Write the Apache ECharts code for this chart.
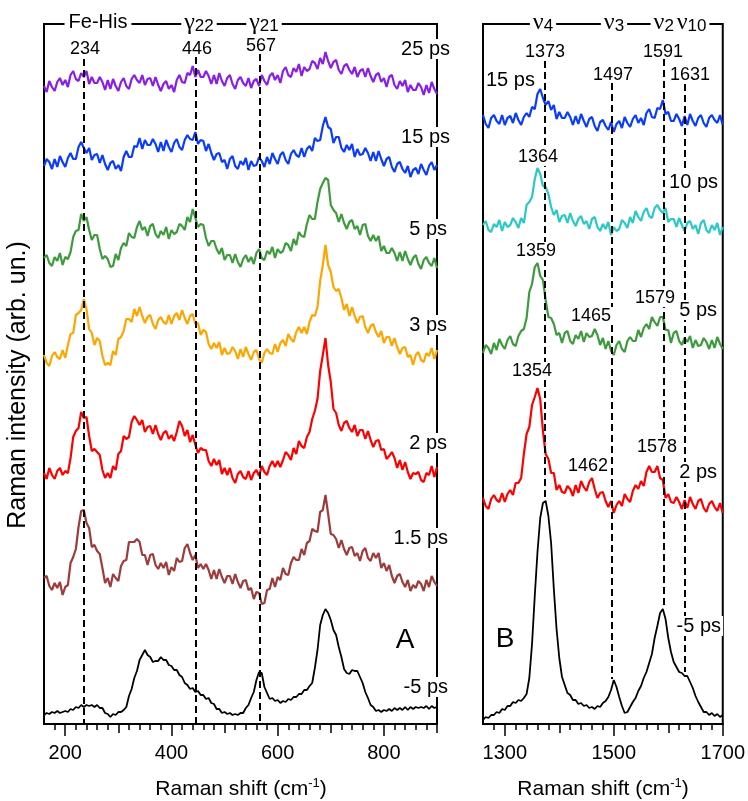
<!DOCTYPE html>
<html><head><meta charset="utf-8">
<script src="https://cdn.jsdelivr.net/npm/echarts@6/dist/echarts.min.js"></script>
<style>html,body{margin:0;padding:0;background:#fff}#c{width:748px;height:801px}</style>
</head><body><div id="c"></div>
<script>
// Panel A: Raman shift 160..900 cm-1, sampled every 5 cm-1 (values = stacked intensity, arb. un.)
const A_START = 160, A_STEP = 5;
const a25ps = [
638,632,643,637,633,642,646,639,644,637,
649,653,645,643,651,647,653,640,647,641,
641,647,642,634,644,635,645,638,633,642,
646,638,635,645,649,644,641,649,639,645,
646,638,647,639,633,640,643,635,639,632,
644,649,642,641,651,649,658,647,654,647,
647,653,648,640,649,640,651,643,638,646,
649,640,635,644,647,641,638,646,636,643,
645,638,649,643,639,648,651,644,649,641,
653,657,649,647,656,652,660,648,657,653,
655,663,661,655,666,660,672,663,656,662,
664,654,650,658,660,654,650,657,647,653,
655,647,656,648,642,649,651,642,646,637,
647,649,639,635,643,638,644,632,639,634,
634,641,637,629,639,631,642,635,630];
const a15ps = [
558,565,562,555,565,557,568,562,557,566,
571,565,565,577,582,576,571,576,564,569,
570,561,569,560,554,561,563,555,559,553,
567,573,567,567,578,577,586,575,584,579,
579,585,580,572,582,573,584,577,572,581,
585,577,574,584,589,585,584,592,580,584,
583,573,580,571,564,570,571,562,564,555,
565,568,558,555,563,559,566,554,563,558,
559,567,563,557,567,560,571,565,560,569,
572,564,560,570,574,569,567,576,567,575,
578,573,586,583,584,598,607,597,595,581,
587,587,576,572,579,574,580,567,575,569,
570,576,571,563,572,563,573,565,558,565,
567,557,552,560,562,555,551,558,547,554,
556,550,560,554,549,558,562,554,559];
const a5ps = [
466,469,461,458,467,463,471,459,467,465,
472,487,493,494,510,503,507,494,484,489,
489,475,465,468,465,457,458,470,464,476,
481,478,491,487,486,497,503,494,497,488,
498,500,490,486,493,489,497,485,494,490,
492,500,498,494,507,502,515,506,497,500,
499,486,478,483,483,475,470,476,464,469,
469,461,470,462,457,465,469,462,467,460,
471,475,466,464,473,470,477,466,475,471,
473,481,479,473,485,479,492,488,487,500,
509,505,505,522,535,541,546,544,519,514,
511,502,510,501,495,502,504,495,498,489,
499,500,488,483,489,483,488,473,478,471,
471,476,471,463,472,463,473,465,459,466,
469,460,455,464,467,461,458,466,456];
const a3ps = [
369,361,358,368,372,367,365,374,366,379,
390,391,409,411,414,425,415,395,391,379,
386,383,368,359,361,359,373,369,385,387,
393,405,405,402,415,408,417,408,401,407,
409,400,395,404,407,402,400,409,400,408,
411,404,414,406,400,408,410,400,401,389,
394,392,380,375,381,376,382,369,376,370,
371,377,373,365,375,367,377,370,364,372,
374,365,361,371,375,371,370,380,372,381,
384,378,390,385,382,392,397,391,397,390,
402,409,408,417,443,459,479,459,452,437,
433,435,426,414,420,408,417,408,401,407,
408,397,391,398,400,392,387,393,381,387,
387,378,386,377,370,376,377,367,369,359,
369,372,364,362,371,368,376,365,374];
const a2ps = [
251,245,256,249,245,253,256,249,253,251,
266,287,293,296,312,306,307,288,273,275,
272,269,254,246,251,246,258,254,270,273,
288,285,287,302,308,304,299,304,292,297,
298,290,299,290,284,291,293,285,289,283,
292,303,298,288,294,282,289,279,271,276,
274,274,263,258,265,259,264,250,256,249,
256,246,241,250,253,247,245,253,244,251,
254,248,258,252,249,258,263,257,263,257,
264,272,269,264,276,270,283,278,276,287,
292,305,313,325,353,369,386,359,342,315,
311,299,293,301,303,296,292,299,288,294,
294,285,293,284,277,283,284,274,275,265,
268,272,266,256,264,254,262,252,245,251,
250,252,244,242,251,249,258,247,257];
const a1p5ps = [
146,148,138,134,141,136,142,129,137,139,
161,167,175,197,213,214,201,196,177,179,
173,170,156,141,146,137,150,146,143,158,
163,164,182,182,182,185,182,169,169,159,
169,170,159,155,161,156,162,149,157,153,
166,162,163,176,180,171,164,169,156,160,
155,160,154,145,154,145,155,147,141,148,
148,140,150,142,136,143,144,134,136,125,
132,131,120,121,134,135,146,137,147,144,
156,150,149,161,167,164,164,175,169,181,
183,195,193,192,212,214,229,210,190,189,
185,176,184,175,169,176,177,168,171,163,
173,176,166,163,171,166,171,156,161,153,
159,148,141,148,150,142,137,144,133,139,
136,143,140,133,144,137,148,142,138];
const aMinus5ps = [
9,11,10,12,11,13,11,12,13,12,
15,14,17,16,19,17,19,18,19,17,
19,16,16,11,10,7,10,9,12,12,
14,17,28,35,46,53,64,69,74,69,
67,62,63,63,67,64,64,59,58,54,
54,49,47,41,39,35,36,32,33,29,
29,25,26,21,20,15,15,11,12,10,
11,9,10,9,11,11,16,19,26,32,
44,52,51,37,31,25,26,23,24,21,
23,22,25,24,27,27,30,30,34,34,
38,41,56,74,99,109,115,111,104,94,
89,77,67,55,51,50,54,53,53,47,
41,32,26,19,17,13,14,12,14,13,
15,13,16,14,16,14,17,14,17,15,
17,16,17,16,18,15,18,16,17];

// Panel B: Raman shift 1260..1700 cm-1, sampled every 5 cm-1
const B_START = 1260, B_STEP = 5;
const b15ps = [
609,600,596,606,609,603,600,609,599,606,
608,601,611,604,599,607,611,607,617,615,
630,635,626,619,623,614,619,605,612,606,
606,612,607,599,608,600,610,603,597,605,
607,598,593,602,604,598,594,602,592,600,
603,596,607,601,597,605,609,601,606,599,
611,615,607,606,616,615,624,610,612,603,
603,610,605,598,608,599,610,603,598,606,
609,601,597,606,609,604,601,609,599];
const b10ps = [
499,503,494,492,500,497,504,493,502,497,
499,506,502,496,506,501,519,522,527,545,
556,550,538,537,530,517,509,514,502,508,
509,501,511,503,498,505,508,500,503,495,
505,507,497,493,500,495,502,489,497,493,
495,504,501,496,507,501,513,507,503,512,
516,508,506,516,519,514,511,516,502,505,
505,497,506,499,493,501,503,495,499,490,
501,504,494,491,499,494,501,489,497];
const b5ps = [
371,379,376,370,381,374,385,379,375,384,
388,380,378,388,393,395,406,432,440,457,
461,448,444,424,407,406,400,389,391,381,
391,393,383,380,389,385,393,382,391,387,
388,395,389,379,386,375,383,373,369,379,
383,375,372,383,387,383,383,394,387,396,
400,395,407,402,398,407,407,394,394,381,
391,393,383,379,386,382,388,376,384,378,
379,386,382,375,384,376,387,380,375];
const b2ps = [
226,218,215,225,229,224,222,231,222,230,
234,229,241,241,246,270,290,297,319,327,
336,325,293,270,265,251,251,234,239,232,
231,238,235,228,239,231,243,237,233,242,
246,235,226,231,232,223,217,223,211,219,
223,218,230,225,222,233,239,235,243,238,
252,258,252,252,258,246,244,226,230,222,
221,227,222,215,224,216,227,220,215,223,
225,216,212,220,223,217,213,221,211];
const bMinus5ps = [
4,7,6,9,9,12,11,15,14,18,
18,22,21,24,23,26,30,46,80,128,
172,206,221,223,208,181,135,95,66,47,
39,31,29,24,24,20,21,18,19,16,
17,15,18,17,21,23,27,34,44,37,
27,18,11,12,17,22,26,33,38,46,
52,61,70,86,98,111,115,105,86,72,
62,57,52,51,48,48,42,36,28,22,
17,12,12,9,11,8,10,7,9];

// peak marker positions (cm-1) and dashed-line extents (intensity units)
const peaksA = [234, 446, 567];
const peaksATop = [665, 667, 670];
const peaksB = [1373, 1497, 1591, 1631];
const peaksBTop = [663, 641, 665, 640];
const peaksBBottom = [223, 45, 115, 52];

// axis ticks
const ticksA_minor = [180,200,220,240,260,280,300,320,340,360,380,400,420,440,460,480,500,520,540,560,580,600,620,640,660,680,700,720,740,760,780,800,820,840,860,880,900];
const ticksA_mid = [300,500,700,900];
const ticksA_major = [200,400,600,800];
const ticksB_minor = [1280,1300,1320,1340,1360,1380,1400,1420,1440,1460,1480,1500,1520,1540,1560,1580,1600,1620,1640,1660,1680,1700];
const ticksB_mid = [1400,1600];
const ticksB_major = [1300,1500,1700];

const FONT = 'Liberation Sans, Arial, sans-serif';
const SERIF = 'Liberation Serif, DejaVu Serif, serif';

function pairs(arr, start, step) { return arr.map((v, i) => [start + i * step, v]); }

const seriesA = [
  ['25 ps', a25ps, '#8A1EE6'],
  ['15 ps', a15ps, '#0A3CFF'],
  ['5 ps', a5ps, '#3C9B3C'],
  ['3 ps', a3ps, '#FFA500'],
  ['2 ps', a2ps, '#FF0000'],
  ['1.5 ps', a1p5ps, '#9E3B3B'],
  ['-5 ps', aMinus5ps, '#000000']
];
const seriesB = [
  ['15 ps', b15ps, '#0A3CFF'],
  ['10 ps', b10ps, '#2BC8C8'],
  ['5 ps', b5ps, '#3C9B3C'],
  ['2 ps', b2ps, '#FF0000'],
  ['-5 ps', bMinus5ps, '#000000']
];

const dash = {color: '#000', width: 2, type: [7, 4]};
const series = [];
seriesA.forEach(([name, arr, color], k) => {
  const black = k === seriesA.length - 1;
  const s = {name: 'A ' + name, type: 'line', xAxisIndex: 0, yAxisIndex: 0, data: pairs(arr, A_START, A_STEP),
    showSymbol: false, symbol: 'none', lineStyle: {color, width: black ? 1.8 : 2.2, join: 'bevel'}, silent: true, z: 3};
  if (black) {
    s.markLine = {symbol: ['none', 'none'], silent: true, label: {show: false}, lineStyle: dash, animation: false,
      data: peaksA.map((p, i) => [{coord: [p, peaksATop[i]]}, {coord: [p, 0]}])};
  }
  series.push(s);
});
seriesB.forEach(([name, arr, color], k) => {
  const black = k === seriesB.length - 1;
  const s = {name: 'B ' + name, type: 'line', xAxisIndex: 3, yAxisIndex: 1, data: pairs(arr, B_START, B_STEP),
    showSymbol: false, symbol: 'none', lineStyle: {color, width: black ? 1.8 : 2.2, join: 'bevel'}, silent: true, z: 3};
  if (black) {
    s.markLine = {symbol: ['none', 'none'], silent: true, label: {show: false}, lineStyle: dash, animation: false,
      data: peaksB.map((p, i) => [{coord: [p, peaksBTop[i]]}, {coord: [p, peaksBBottom[i]]}])};
  }
  series.push(s);
});

function tickAxis(grid, min, max, vals, len, showLine, labels) {
  return {type: 'value', gridIndex: grid, min, max, position: 'bottom',
    axisLine: {show: showLine, lineStyle: {color: '#000', width: 2}},
    axisTick: {show: true, inside: false, length: len, customValues: vals, lineStyle: {color: '#000', width: 1.5}},
    axisLabel: {show: !!labels, customValues: labels || [], color: '#000', fontSize: 20, fontFamily: FONT, margin: 19,
      formatter: (v) => String(v)},
    splitLine: {show: false}};
}

const T = (text, x, y, o = {}) => ({type: 'text', z: 100, silent: true,
  style: Object.assign({text, x, y, fill: '#000', font: (o.size || 20) + 'px ' + FONT,
    align: o.align || 'center', verticalAlign: 'middle',
    backgroundColor: o.bg === false ? null : '#fff', padding: o.pad || [0, 2]}, o.extra || {})});

const GR = {g: {fontSize: 24, fontFamily: SERIF, lineHeight: 26, fill: '#000', verticalAlign: 'bottom'},
            s: {fontSize: 17, fontFamily: FONT, lineHeight: 16, fill: '#000', verticalAlign: 'bottom'},
            sp: {fontSize: 10, lineHeight: 26}};
const greek = (txt, x, y) => ({type: 'text', z: 100, silent: true,
  style: {text: txt, x, y, align: 'center', verticalAlign: 'middle',
    backgroundColor: '#fff', padding: [0, 3], rich: GR}});

const xName = (x) => ({type: 'text', z: 100, silent: true,
  style: {text: '{a|Raman shift (cm}{s|-1}{a|)}', x, y: 789, align: 'center', verticalAlign: 'middle',
    rich: {a: {fontSize: 21, fontFamily: FONT, lineHeight: 24, fill: '#000'},
           s: {fontSize: 13, fontFamily: FONT, lineHeight: 12, fill: '#000', verticalAlign: 'top'}}}});

const graphics = [
  // top bracket labels
  T('Fe-His', 98, 22, {pad: [0, 4]}),
  greek('{g|γ}{s|22}', 199, 22),
  greek('{g|γ}{s|21}', 264, 22),
  greek('{g|ν}{s|4}', 543, 22),
  greek('{g|ν}{s|3}', 614, 22),
  greek('{g|ν}{s|2}{sp| }{g|ν}{s|10}', 680, 22),
  // peak labels A
  T(String(peaksA[0]), 85, 49, {size: 18, bg: false}),
  T(String(peaksA[1]), 197, 49, {size: 18, bg: false}),
  T(String(peaksA[2]), 261, 46, {size: 18, bg: false}),
  // series labels A
  T('25 ps', 452, 49, {align: 'right'}),
  T('15 ps', 452, 137, {align: 'right'}),
  T('5 ps', 449, 229, {align: 'right'}),
  T('3 ps', 449, 325, {align: 'right'}),
  T('2 ps', 449, 443, {align: 'right'}),
  T('1.5 ps', 450, 538, {align: 'right'}),
  T('-5 ps', 450, 687, {align: 'right'}),
  T('A', 405, 640, {size: 28, bg: false}),
  // peak labels B
  T('1373', 545, 52, {size: 18, bg: false}),
  T('1497', 613, 75, {size: 18, bg: false}),
  T('1591', 663, 52, {size: 18, bg: false}),
  T('1631', 690, 75, {size: 18, bg: false}),
  T('1364', 538, 157, {size: 18}),
  T('1359', 536, 251, {size: 18}),
  T('1465', 591, 316, {size: 18}),
  T('1579', 655, 298, {size: 18}),
  T('1354', 532, 371, {size: 18}),
  T('1462', 588, 466, {size: 18}),
  T('1578', 657, 447, {size: 18}),
  // series labels B
  T('15 ps', 484, 80, {align: 'left', bg: false}),
  T('10 ps', 720, 182, {align: 'right'}),
  T('5 ps', 719, 310, {align: 'right'}),
  T('2 ps', 719, 472, {align: 'right'}),
  T('-5 ps', 723, 626, {align: 'right'}),
  T('B', 505, 639, {size: 28, bg: false}),
  // axis names
  xName(241), xName(603),
  {type: 'text', z: 100, silent: true, rotation: Math.PI / 2, x: 18, y: 385,
   style: {text: 'Raman intensity (arb. un.)', x: 0, y: 0, align: 'center', verticalAlign: 'middle',
     fill: '#000', font: '25px ' + FONT}}
];

const option = {
  animation: false,
  backgroundColor: '#fff',
  grid: [
    {left: 44, top: 24, width: 393, height: 700, show: true, borderColor: '#000', borderWidth: 2, containLabel: false},
    {left: 483, top: 24, width: 242, height: 700, show: true, borderColor: '#000', borderWidth: 2, containLabel: false}
  ],
  xAxis: [
    tickAxis(0, 160, 900, ticksA_minor, 6, true, ticksA_major),
    tickAxis(0, 160, 900, ticksA_mid, 9, false, null),
    tickAxis(0, 160, 900, ticksA_major, 12, false, null),
    tickAxis(1, 1260, 1700, ticksB_minor, 6, true, ticksB_major),
    tickAxis(1, 1260, 1700, ticksB_mid, 9, false, null),
    tickAxis(1, 1260, 1700, ticksB_major, 12, false, null)
  ],
  yAxis: [
    {type: 'value', gridIndex: 0, min: 0, max: 700, show: false, splitLine: {show: false}},
    {type: 'value', gridIndex: 1, min: 0, max: 700, show: false, splitLine: {show: false}}
  ],
  series,
  graphic: {elements: graphics}
};

const chart = echarts.init(document.getElementById('c'), null, {renderer: 'canvas'});
chart.setOption(option);
</script></body></html>
